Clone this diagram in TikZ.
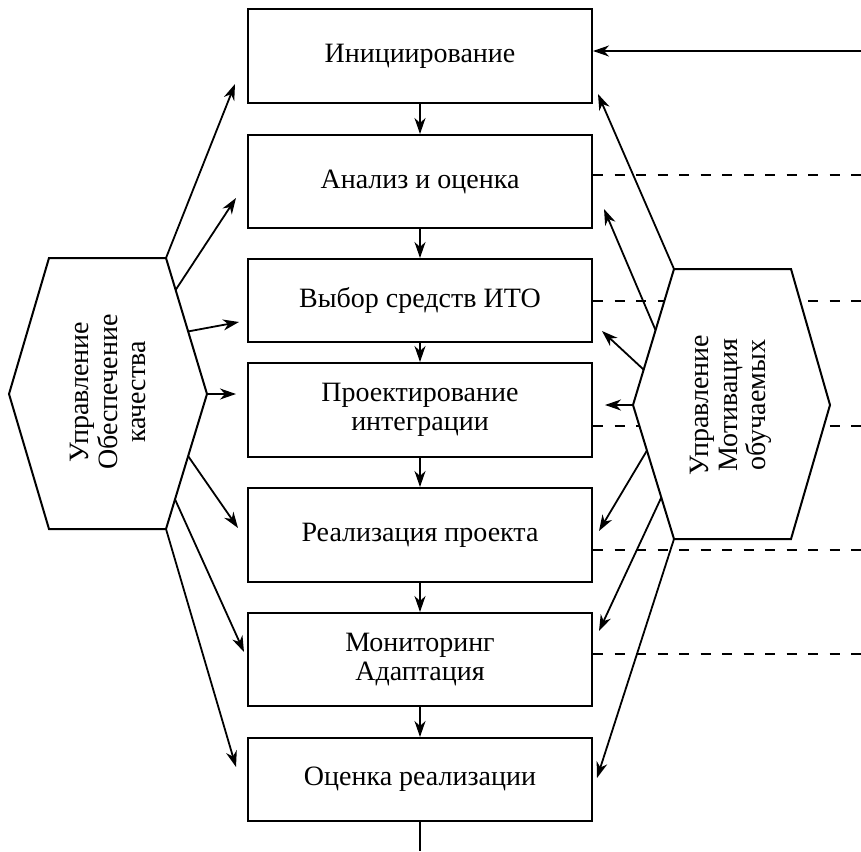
\documentclass[tikz,border=0pt]{standalone}
\usepackage{fontspec}
\setmainfont{Liberation Serif}
\usetikzlibrary{arrows.meta,calc}

\begin{document}
\begin{tikzpicture}[x=1pt,y=-1pt,
    stage/.style={draw,line width=2pt,minimum width=344pt,align=center,
      font=\fontsize{28}{29}\selectfont},
    arr/.style={line width=1.8pt,-{Stealth[length=16pt,width=11pt,inset=5pt]}},
    dline/.style={line width=1.8pt,dash pattern=on 10pt off 11.5pt},
    hexa/.style={draw,line width=2pt,fill=white,line join=miter},
    hexlabel/.style={rotate=90,align=center,font=\fontsize{28}{28.5}\selectfont}]
    \useasboundingbox (0,0) rectangle (861,851);

    % Stages of the process
    \node[stage,minimum height=94pt] (b1) at (420,56) {Инициирование};
    \node[stage,minimum height=93pt] (b2) at (420,181.5) {Анализ и оценка};
    \node[stage,minimum height=83pt] (b3) at (420,300.5) {Выбор средств ИТО};
    \node[stage,minimum height=94pt] (b4) at (420,410) {Проектирование\\интеграции};
    \node[stage,minimum height=94pt] (b5) at (420,535) {Реализация проекта};
    \node[stage,minimum height=93pt] (b6) at (420,659.5) {Мониторинг\\Адаптация};
    \node[stage,minimum height=83pt] (b7) at (420,779.5) {Оценка реализации};

    % Sequence arrows
    \draw[arr] (b1) -- (b2);
    \draw[arr] (b2) -- (b3);
    \draw[arr] (b3) -- (b4);
    \draw[arr] (b4) -- (b5);
    \draw[arr] (b5) -- (b6);
    \draw[arr] (b6) -- (b7);
    \coordinate (out) at (420,851);
    \draw[line width=1.8pt] (b7) -- (b7 |- out);

    % Incoming line and dashed links to the right
    \coordinate (in) at (861,51);
    \draw[arr] (in) -- (in -| b1.east);
    \coordinate (d2) at (861,175);
    \coordinate (d3) at (861,301);
    \coordinate (d4) at (861,426);
    \coordinate (d5) at (861,550);
    \coordinate (d6) at (861,654);
    \draw[dline] (d2 -| b2.east) -- (d2);
    \draw[dline] (d3 -| b3.east) -- (d3);
    \draw[dline] (d4 -| b4.east) -- (d4);
    \draw[dline] (d5 -| b5.east) -- (d5);
    \draw[dline] (d6 -| b6.east) -- (d6);

    % Quality hexagon (left)
    \coordinate (ql) at (9,394);
    \coordinate (qnw) at (49,258);
    \coordinate (qne) at (166,258);
    \coordinate (qr) at (207,394);
    \coordinate (qse) at (166,529);
    \coordinate (qsw) at (49,529);
    \draw[hexa] (ql) -- (qnw) -- (qne) -- (qr) -- (qse) -- (qsw) -- cycle;
    \node[hexlabel] (qual) at (108,392) {Управление\\Обеспечение\\качества};

    % Motivation hexagon (right)
    \coordinate (ml) at (633,405);
    \coordinate (mnw) at (674,269);
    \coordinate (mne) at (791,269);
    \coordinate (mr) at (830,405);
    \coordinate (mse) at (791,539);
    \coordinate (msw) at (674,539);
    \draw[hexa] (ml) -- (mnw) -- (mne) -- (mr) -- (mse) -- (msw) -- cycle;
    \node[hexlabel] (motiv) at (731,405) {Управление\\Мотивация\\обучаемых};

    % Arrows from the quality hexagon
    \draw[arr] (qne) -- ($(b1.west)+(-12,28)$);
    \draw[arr] ($(qne)!0.235!(qr)$) -- ($(b2.west)+(-11,16.5)$);
    \draw[arr] ($(qne)!0.54!(qr)$) -- ($(b3.west)+(-8,21.5)$);
    \draw[arr] (qr) -- ($(b4.west)+(-11,-16)$);
    \draw[arr] ($(qr)!0.46!(qse)$) -- ($(b5.west)+(-9,-7)$);
    \draw[arr] ($(qr)!0.78!(qse)$) -- ($(b6.west)+(-3,-7.5)$);
    \draw[arr] (qse) -- ($(b7.west)+(-11,-12.5)$);

    % Arrows from the motivation hexagon
    \draw[arr] (mnw) -- ($(b1.east)+(5,38)$);
    \draw[arr] ($(mnw)!0.45!(ml)$) -- ($(b2.east)+(11,27.5)$);
    \draw[arr] ($(mnw)!0.74!(ml)$) -- ($(b3.east)+(9,30.5)$);
    \draw[arr] (ml) -- ($(b4.east)+(12,-5)$);
    \draw[arr] ($(ml)!0.34!(msw)$) -- ($(b5.east)+(6,-4)$);
    \draw[arr] ($(ml)!0.69!(msw)$) -- ($(b6.east)+(6,-28.5)$);
    \draw[arr] (msw) -- ($(b7.east)+(4,-1.5)$);
\end{tikzpicture}
\end{document}
